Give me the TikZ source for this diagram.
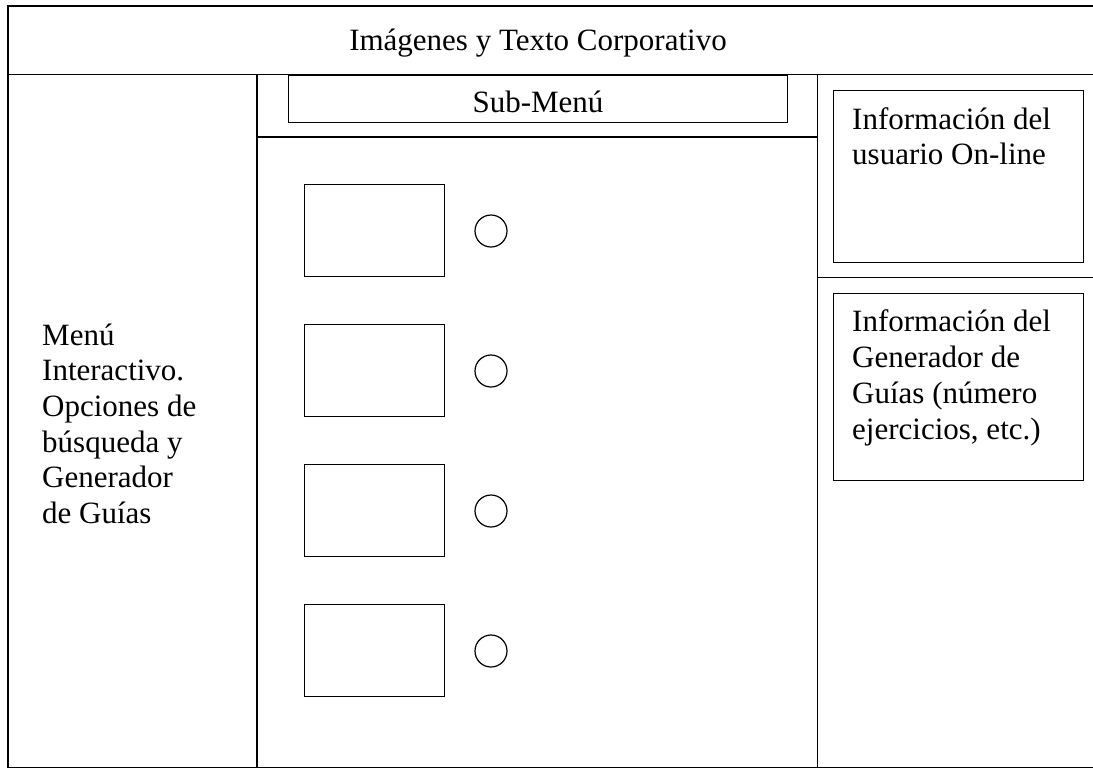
\documentclass[tikz,border=0pt]{standalone}
\usepackage{fontspec}
\setmainfont{Liberation Serif}
\begin{document}
\begin{tikzpicture}[x=1pt,y=-1pt,
  frame/.style={line width=1.6pt},
  panel/.style={draw,line width=1.3pt,rectangle,inner sep=0pt,anchor=north west},
  thumb/.style={draw,line width=1.3pt,rectangle,inner sep=0pt,minimum width=140pt,minimum height=92pt,anchor=north west},
  radio/.style={draw,line width=1.2pt,circle,inner sep=0pt,minimum size=32pt},
  label/.style={font=\fontsize{31}{35.7}\selectfont,inner sep=0pt},
  % multi-line text: the base anchor sits on the last line's baseline
  blocktext/.style={font=\fontsize{31}{35.7}\selectfont,inner sep=0pt,align=left,anchor=base west}]
\useasboundingbox (0,0) rectangle (1093,769);
\fill[white] (0,0) rectangle (1093,769);

% page frame (right edge runs off the page)
\draw[frame] (1093,6) -- (8,6) -- (8,767.5) -- (1093,767.5);
\draw[frame] (8,74.5) -- (1093,74.5);
\draw[frame] (257,74.5) -- (257,767.5);
\draw[frame] (817.5,74.5) -- (817.5,767.5);
\draw[frame] (257,137) -- (817.5,137);
\draw[frame] (817.5,277.5) -- (1093,277.5);

% header
\node[label,anchor=base] (header) at (538,50) {Imágenes y Texto Corporativo};

% sub-menu bar
\node[panel,minimum width=499pt,minimum height=47pt] (submenu) at (288,74.5) {};
\node[label,anchor=base] (submenutext) at (538,112) {Sub-Menú};

% left menu text
\node[blocktext] (menu) at (42,523.5) {Menú\\Interactivo.\\Opciones de\\búsqueda y\\Generador\\de Guías};

% right information panels
\node[panel,minimum width=250pt,minimum height=172pt] (userbox) at (833,90) {};
\node[blocktext] (usertext) at (852,164.7) {Información del\\usuario On-line};
\node[panel,minimum width=250pt,minimum height=187pt] (guidebox) at (833,293) {};
\node[blocktext] (guidetext) at (852,439) {Información del\\Generador de\\Guías (número\\ejercicios, etc.)};

% content items: thumbnail + radio button
\foreach \i/\y in {1/184,2/324,3/464,4/604} {
  \node[thumb] (item\i) at (304,\y) {};
  \node[radio] (opt\i) at (491,\y+47) {};
}
\end{tikzpicture}
\end{document}
